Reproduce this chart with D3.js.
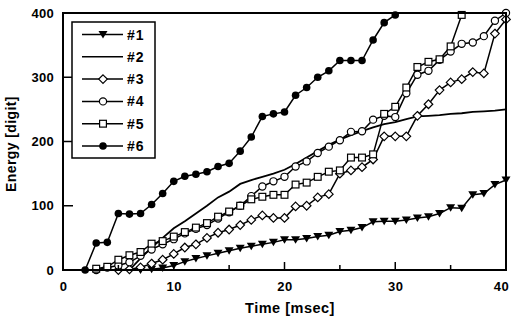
<!DOCTYPE html>
<html><head><meta charset="utf-8">
<script src="https://cdn.jsdelivr.net/npm/d3@7"></script>
<style>body{margin:0;background:#fff}svg text{font-family:"Liberation Sans",Arial,sans-serif;}</style>
</head><body><svg id="c" width="512" height="320"></svg>
<script>
const seriesNames = ["#1","#2","#3","#4","#5","#6"];
const t1 = d3.range(7, 41);
const v1 = [0,1,3,7,13,18,22,26,30,34,37,40,43,47,47,49,52,54,60,62,66,75,76,76,78,81,83,88,97,96,117,119,133,140];
const t2 = d3.range(6, 41);
const v2 = [0,18,35,50,65,76,88,100,113,122,134,140,145,150,156,165,175,185,195,203,210,216,222,227,230,235,239,240,241,243,244,246,247,248,250];
const t3 = d3.range(5, 41);
const v3 = [0,1,4,10,16,25,35,40,50,58,63,70,78,85,81,81,99,100,113,118,150,155,160,172,208,208,208,240,258,280,292,297,308,306,368,390];
const t4 = d3.range(3, 41);
const v4 = [0,4,7,12,22,32,40,48,57,64,70,80,90,100,115,130,138,145,161,169,182,192,202,215,216,234,240,238,275,304,310,327,340,352,354,364,388,400];
const t5 = d3.range(3, 37);
const v5 = [2,5,16,23,28,41,45,52,59,66,73,83,91,100,110,114,117,117,133,136,145,153,155,175,175,180,243,254,284,316,324,328,348,397];
const t6 = d3.range(2, 31);
const v6 = [0,42,43,88,87,88,102,119,138,146,149,153,161,166,185,207,239,243,246,272,284,300,310,326,326,326,358,385,397];
const xTicks = [0,10,20,30,40];
const yTicks = [0,100,200,300,400];

const svg = d3.select("#c");
const x = d3.scaleLinear().domain([0,40]).range([63,506]);
const y = d3.scaleLinear().domain([0,400]).range([270,13]);

const series = [
  {name:seriesNames[0], t:t1, v:v1, m:"tri"},
  {name:seriesNames[1], t:t2, v:v2, m:"none"},
  {name:seriesNames[2], t:t3, v:v3, m:"diamond"},
  {name:seriesNames[3], t:t4, v:v4, m:"circle"},
  {name:seriesNames[4], t:t5, v:v5, m:"square"},
  {name:seriesNames[5], t:t6, v:v6, m:"dot"}
];

function marker(g, type, cx, cy){
  if(type==="tri"){
    g.append("path").attr("d",`M${cx-4.5},${cy-3.5}L${cx+4.5},${cy-3.5}L${cx},${cy+4}Z`).attr("fill","#000");
  } else if(type==="diamond"){
    g.append("path").attr("d",`M${cx},${cy-4.3}L${cx+4.3},${cy}L${cx},${cy+4.3}L${cx-4.3},${cy}Z`).attr("fill","#fff").attr("stroke","#000").attr("stroke-width",1.2);
  } else if(type==="circle"){
    g.append("circle").attr("cx",cx).attr("cy",cy).attr("r",3.6).attr("fill","#fff").attr("stroke","#000").attr("stroke-width",1.2);
  } else if(type==="square"){
    g.append("rect").attr("x",cx-3.4).attr("y",cy-3.4).attr("width",6.8).attr("height",6.8).attr("fill","#fff").attr("stroke","#000").attr("stroke-width",1.2);
  } else if(type==="dot"){
    g.append("circle").attr("cx",cx).attr("cy",cy).attr("r",3.8).attr("fill","#000");
  }
}

const line = d3.line().x(d=>x(d[0])).y(d=>y(d[1]));
const plot = svg.append("g");
series.forEach(s=>{
  const pts = s.t.map((tt,i)=>[tt,s.v[i]]);
  plot.append("path").datum(pts).attr("d",line).attr("fill","none").attr("stroke","#000").attr("stroke-width",s.m==="none"?1.8:1.5);
});
series.forEach(s=>{
  if(s.m==="none") return;
  s.t.forEach((tt,i)=>marker(plot, s.m, x(tt), y(s.v[i])));
});

// frame
svg.append("rect").attr("x",63).attr("y",13).attr("width",443).attr("height",257).attr("fill","none").attr("stroke","#000").attr("stroke-width",2);

const xAxis = d3.axisBottom(x).tickValues(xTicks).tickSize(0).tickPadding(12).tickFormat(d3.format("d"));
const gx = svg.append("g").attr("transform","translate(0,270)").call(xAxis);
gx.select(".domain").remove();
gx.selectAll("text").attr("font-size",13).attr("font-weight","bold").attr("letter-spacing","0.5px").attr("fill","#000")
  .attr("dx", d => d === 40 ? "-5px" : null);
const yAxis = d3.axisLeft(y).tickValues(yTicks).tickSize(0).tickPadding(9).tickFormat(d3.format("d"));
const gy = svg.append("g").attr("transform","translate(63,0)").call(yAxis);
gy.select(".domain").remove();
gy.selectAll("text").attr("font-size",13).attr("font-weight","bold").attr("letter-spacing","0.3px").attr("fill","#000");

d3.range(5,40,5).forEach(v=>{
  const len = v%10===0 ? 8 : 5;
  svg.append("line").attr("x1",x(v)).attr("x2",x(v)).attr("y1",270).attr("y2",270-len).attr("stroke","#000").attr("stroke-width",1.5);
});
[100,200,300].forEach(v=>{
  svg.append("line").attr("x1",63).attr("x2",63+10).attr("y1",y(v)).attr("y2",y(v)).attr("stroke","#000").attr("stroke-width",1.5);
});

svg.append("text").attr("x",290).attr("y",313).attr("text-anchor","middle").attr("font-size",14.5).attr("font-weight","bold").attr("letter-spacing","0.5px").text("Time [msec]");
svg.append("text").attr("transform","translate(16,144) rotate(-90)").attr("text-anchor","middle").attr("font-size",14).attr("font-weight","bold").attr("letter-spacing","0.4px").text("Energy [digit]");

// legend
const lg = svg.append("g");
lg.append("rect").attr("x",72).attr("y",22).attr("width",83).attr("height",136).attr("fill","#fff").attr("stroke","#000").attr("stroke-width",1.5);
series.forEach((s,i)=>{
  const ly = 34.5 + i*22.3;
  lg.append("line").attr("x1",82).attr("x2",123).attr("y1",ly).attr("y2",ly).attr("stroke","#000").attr("stroke-width",1.5);
  if(s.m!=="none") marker(lg, s.m, 103, ly);
  lg.append("text").attr("x",127).attr("y",ly+5).attr("font-size",14).attr("font-weight","bold").attr("letter-spacing","1px").text(s.name);
});
</script></body></html>
